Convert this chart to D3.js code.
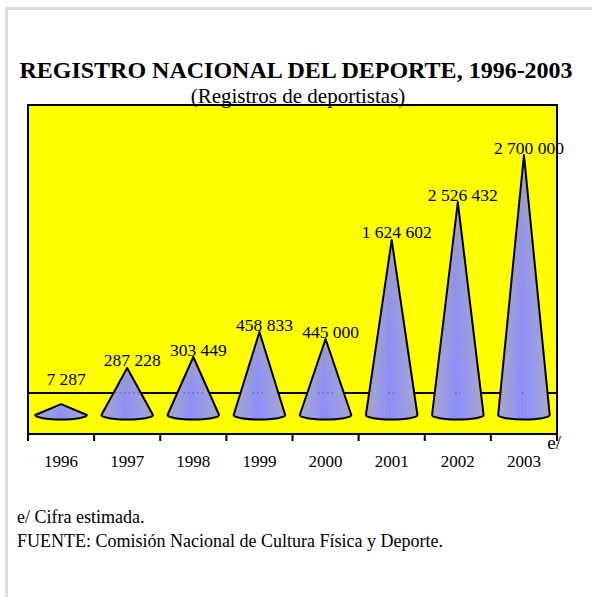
<!DOCTYPE html>
<html>
<head>
<meta charset="utf-8">
<script src="https://cdn.jsdelivr.net/npm/d3@7"></script>
<style>
  html, body { margin: 0; padding: 0; background: #fff; }
  svg { display: block; }
  text { font-family: "Liberation Serif", "Times New Roman", serif; fill: #000; }
</style>
</head>
<body>
<svg id="chart" width="592" height="597"></svg>
<script>
// ---- data ----
const years = ["1996", "1997", "1998", "1999", "2000", "2001", "2002", "2003"];
// printed data labels (registros de deportistas)
const labelValues = [7287, 287228, 303449, 458833, 445000, 1624602, 2526432, 2700000];
// height each cone reaches on the chart's value axis
const plottedValues = [106000, 455000, 561000, 803000, 735000, 1694000, 2061000, 2516000];
const estimatedMark = "e/";
const titleText = "REGISTRO NACIONAL DEL DEPORTE, 1996-2003";
const subtitleText = "(Registros de deportistas)";
const footnotes = ["e/ Cifra estimada.", "FUENTE: Comisión Nacional de Cultura Física y Deporte."];

// ---- layout ----
const W = 592, H = 597;
const plot = { left: 28, right: 557, top: 105, bottom: 434 };
const baseY = 415;      // front floor (cone bases)
const depth = 22;       // 3-D depth offset of back wall
const fmt = v => d3.format(",")(v).replace(/,/g, " ");

const svg = d3.select("#chart");

// page frame
svg.append("rect").attr("x", 5).attr("y", 7).attr("width", W - 5).attr("height", 3).attr("fill", "#dcdcdc");
svg.append("rect").attr("x", 5).attr("y", 7).attr("width", 3).attr("height", H - 7).attr("fill", "#dcdcdc");

// scales
const x = d3.scaleBand().domain(years).range([plot.left, plot.right]).padding(0);
const y = d3.scaleLinear().domain([0, 3000000]).range([baseY, plot.top]);
const backY = y(0) - depth;

// defs: cone gradient
const defs = svg.append("defs");
const grad = defs.append("linearGradient").attr("id", "coneGrad").attr("x1", "0").attr("x2", "1").attr("y1", "0").attr("y2", "0");
[[0, "#a4a4cc"], [0.2, "#9b9bec"], [0.45, "#8a8aff"], [0.62, "#9292fa"], [0.85, "#9e9ee6"], [1, "#a8a8c8"]]
  .forEach(([o, c]) => grad.append("stop").attr("offset", o).attr("stop-color", c));

// plot area
svg.append("rect")
  .attr("x", plot.left).attr("y", plot.top)
  .attr("width", plot.right - plot.left).attr("height", plot.bottom - plot.top)
  .attr("fill", "#ffff00").attr("stroke", "#000").attr("stroke-width", 2);

// back wall baseline
svg.append("line")
  .attr("x1", plot.left).attr("x2", plot.right)
  .attr("y1", backY).attr("y2", backY)
  .attr("stroke", "#000").attr("stroke-width", 2);

// cones
const ry = 4.5;
const coneW = x.bandwidth() * 0.39;
const data = years.map((yr, i) => ({ yr, label: labelValues[i], v: plottedValues[i] }));

const cones = svg.append("g").selectAll("g").data(data).join("g");
cones.each(function (d) {
  const g = d3.select(this);
  const cx = x(d.yr) + x.bandwidth() / 2;
  const ty = y(d.v);
  const path = `M${cx - coneW},${baseY} L${cx},${ty} L${cx + coneW},${baseY} A${coneW},${ry} 0 0 1 ${cx - coneW},${baseY} Z`;
  g.append("path").attr("d", path).attr("fill", "url(#coneGrad)");
  // fan texture
  const n = 22;
  for (let k = 1; k < n; k++) {
    const th = -Math.PI / 2 + Math.PI * k / n;
    g.append("line")
      .attr("x1", cx).attr("y1", ty)
      .attr("x2", cx + coneW * Math.sin(th)).attr("y2", baseY + ry * Math.cos(th))
      .attr("stroke", "#b4b48c").attr("stroke-opacity", 0.4).attr("stroke-width", 0.7);
  }
  // back baseline showing through
  if (ty < backY) {
    const half = coneW * (baseY - backY) / (baseY - ty);
    g.append("line")
      .attr("x1", cx - half).attr("x2", cx + half)
      .attr("y1", backY).attr("y2", backY)
      .attr("stroke", "#333").attr("stroke-width", 1.2).attr("stroke-dasharray", "1.5,3").attr("stroke-opacity", 0.6);
  }
  g.append("path").attr("d", path).attr("fill", "none")
    .attr("stroke", "#000").attr("stroke-width", 2).attr("stroke-linejoin", "round");
  // value label
  g.append("text")
    .attr("x", cx + 5)
    .attr("y", Math.min(ty - 1.5, backY - 8))
    .attr("text-anchor", "middle")
    .attr("font-size", 17.5)
    .text(fmt(d.label));
});

// x axis line
svg.append("line")
  .attr("x1", plot.left - 1).attr("x2", plot.right + 1)
  .attr("y1", plot.bottom).attr("y2", plot.bottom)
  .attr("stroke", "#000").attr("stroke-width", 2);

// ticks at category boundaries
const tickPos = years.map(d => x(d)).concat([x(years[years.length - 1]) + x.bandwidth()]);
svg.append("g").selectAll("line").data(tickPos).join("line")
  .attr("x1", d => d).attr("x2", d => d)
  .attr("y1", plot.bottom).attr("y2", plot.bottom + 7)
  .attr("stroke", "#000").attr("stroke-width", 2);

// category labels
const axis = svg.append("g")
  .attr("transform", `translate(0,${plot.bottom})`)
  .call(d3.axisBottom(x).tickSize(0).tickPadding(0));
axis.select(".domain").remove();
axis.selectAll("text")
  .attr("y", 33).attr("dy", 0)
  .attr("font-size", 17)
  .attr("font-family", "Liberation Serif, Times New Roman, serif")
  .attr("fill", "#000");

// estimated mark
svg.append("text")
  .attr("x", plot.right + 4).attr("y", plot.bottom + 15)
  .attr("text-anchor", "end").attr("font-size", 19)
  .text(estimatedMark);

// title & subtitle
svg.append("text")
  .attr("x", 296).attr("y", 78)
  .attr("text-anchor", "middle").attr("font-size", 24).attr("font-weight", "bold")
  .text(titleText);
svg.append("text")
  .attr("x", 298).attr("y", 103)
  .attr("text-anchor", "middle").attr("font-size", 21)
  .text(subtitleText);

// footnotes
svg.append("g").selectAll("text").data(footnotes).join("text")
  .attr("x", 17).attr("y", (d, i) => 523 + i * 24)
  .attr("font-size", 18)
  .text(d => d);
</script>
</body>
</html>
